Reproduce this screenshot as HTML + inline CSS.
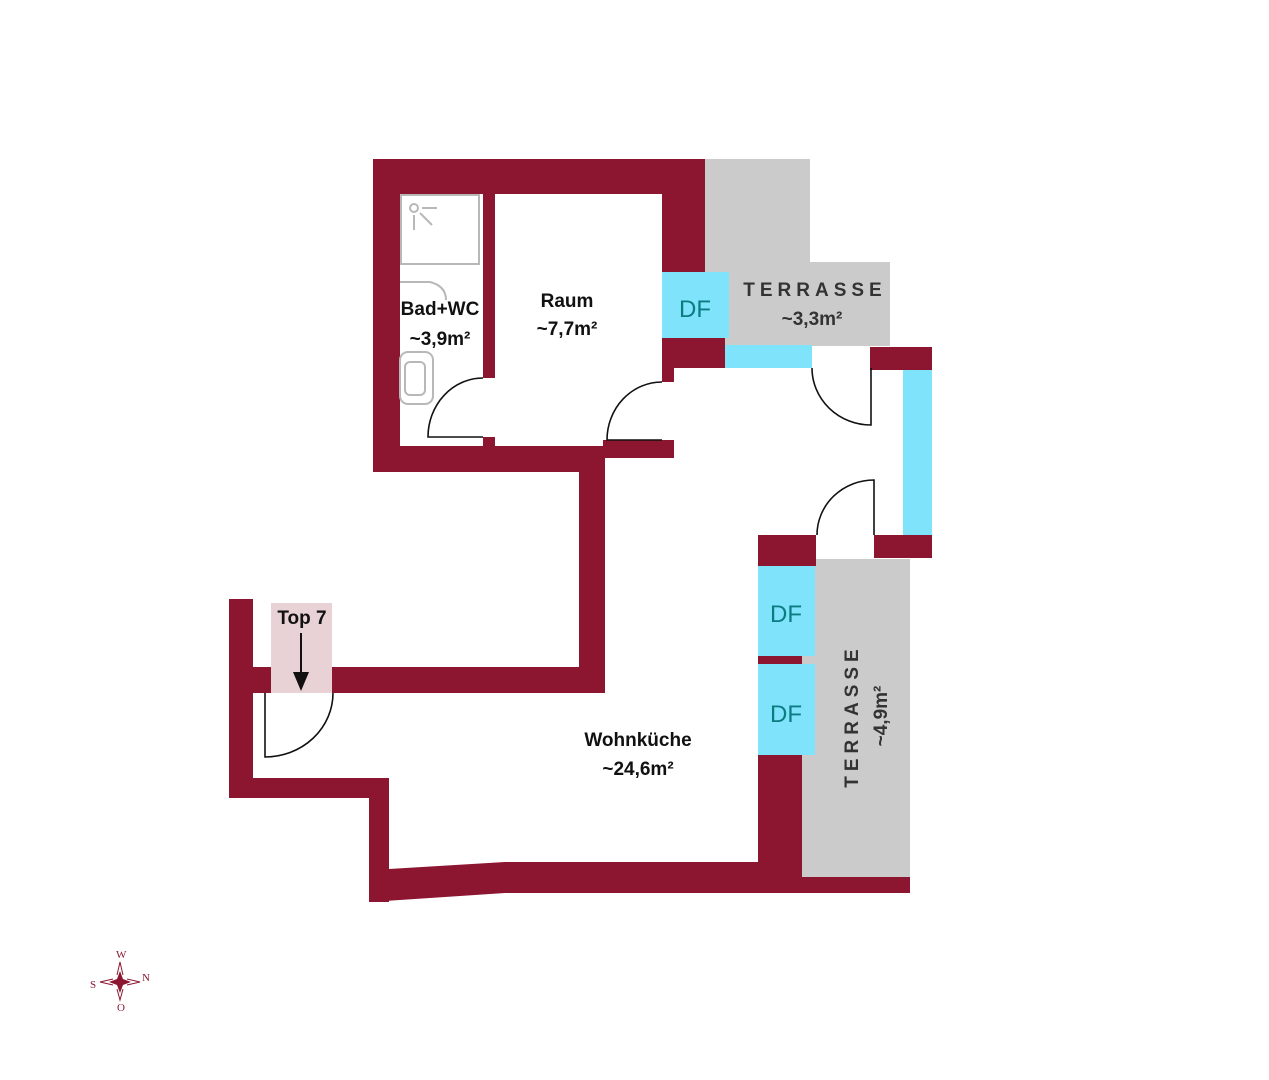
<!DOCTYPE html>
<html><head><meta charset="utf-8"><style>
html,body{margin:0;padding:0;background:#fff;}
svg{display:block;}
.b{font-family:"Liberation Sans",sans-serif;font-weight:bold;font-size:19px;fill:#111;text-anchor:middle;}
.df{font-family:"Liberation Sans",sans-serif;font-size:24px;fill:#0a7c82;text-anchor:middle;}
.t{font-family:"Liberation Sans",sans-serif;font-weight:bold;font-size:19px;fill:#333;text-anchor:middle;letter-spacing:5px;}
</style></head><body>
<svg width="1269" height="1080" viewBox="0 0 1269 1080" xmlns="http://www.w3.org/2000/svg">
<!-- terraces -->
<g fill="#cbcbcb">
<rect x="705" y="159" width="105" height="187"/>
<rect x="705" y="262" width="185" height="84"/>
<rect x="802" y="559" width="108" height="320"/>
</g>
<!-- top7 pink -->
<rect x="271" y="603" width="61" height="90" fill="#e8d2d6"/>
<!-- cyan windows -->
<g fill="#7fe3fb">
<rect x="662" y="272" width="67" height="66"/>
<rect x="725" y="345" width="87" height="23"/>
<rect x="903" y="370" width="29" height="166"/>
<rect x="758" y="566" width="57" height="90"/>
<rect x="758" y="664" width="57" height="91"/>
</g>
<!-- walls -->
<g fill="#8c1530">
<rect x="373" y="159" width="332" height="35"/>
<rect x="373" y="159" width="27" height="313"/>
<rect x="373" y="446" width="232" height="26"/>
<rect x="483" y="194" width="12" height="184"/>
<rect x="483" y="437" width="12" height="10"/>
<rect x="603" y="440" width="71" height="18"/>
<rect x="662" y="194" width="43" height="78"/>
<rect x="662" y="338" width="63" height="30"/>
<rect x="662" y="368" width="12" height="14"/>
<rect x="870" y="347" width="62" height="23"/>
<rect x="579" y="458" width="26" height="235"/>
<rect x="332" y="667" width="273" height="26"/>
<rect x="229" y="599" width="24" height="199"/>
<rect x="253" y="667" width="18" height="26"/>
<rect x="229" y="778" width="160" height="20"/>
<rect x="369" y="778" width="20" height="124"/>
<polygon points="389,869 505,862 758,862 758,893 505,893 369,902 369,869"/>
<rect x="758" y="535" width="58" height="31"/>
<rect x="758" y="656" width="44" height="8"/>
<rect x="758" y="755" width="44" height="138"/>
<rect x="802" y="877" width="108" height="16"/>
<rect x="874" y="535" width="58" height="23"/>
</g>
<!-- doors -->
<g fill="none" stroke="#111" stroke-width="1.6">
<path d="M483,378 A55,59 0 0 0 428,437 L483,437"/>
<path d="M662,382 A55,58 0 0 0 607,440 L662,440"/>
<path d="M812,368 A59,57 0 0 0 871,425 L871,368"/>
<path d="M874,535 L874,480 A57,55 0 0 0 817,535"/>
<path d="M265,693 L265,757 A68,64 0 0 0 333,693"/>
</g>
<!-- arrow -->
<line x1="301" y1="633" x2="301" y2="676" stroke="#111" stroke-width="2"/>
<polygon points="293,672 309,672 301,691" fill="#111"/>
<!-- bath fixtures -->
<g fill="none" stroke="#b8b8b8" stroke-width="2">
<rect x="401" y="195" width="78" height="69"/>
<circle cx="414" cy="208" r="4"/>
<line x1="422" y1="208" x2="437" y2="208"/>
<line x1="414" y1="215" x2="414" y2="230"/>
<line x1="420" y1="213" x2="432" y2="225"/>
<path d="M400,282 L430,282 Q446,286 446,300"/>
<rect x="400" y="352" width="33" height="52" rx="8"/>
<rect x="405" y="362" width="20" height="33" rx="5"/>
</g>
<!-- labels -->
<text class="b" x="440" y="315">Bad+WC</text>
<text class="b" x="440" y="345">~3,9m²</text>
<text class="b" x="567" y="307">Raum</text>
<text class="b" x="567" y="335">~7,7m²</text>
<text class="b" x="302" y="624">Top 7</text>
<text class="b" x="638" y="746">Wohnküche</text>
<text class="b" x="638" y="775">~24,6m²</text>
<text class="t" x="815" y="296">TERRASSE</text>
<text class="t" x="812" y="325" style="letter-spacing:0">~3,3m²</text>
<text class="t" transform="translate(858,716) rotate(-90)">TERRASSE</text>
<text class="t" transform="translate(887,716) rotate(-90)" style="letter-spacing:0">~4,9m²</text>
<text class="df" x="695" y="317">DF</text>
<text class="df" x="786" y="622">DF</text>
<text class="df" x="786" y="722">DF</text>
<!-- compass -->
<g fill="#8c1530" stroke="#8c1530" font-family="Liberation Serif,serif" font-size="11">
<polygon points="120,971 123,979 131,982 123,985 120,993 117,985 109,982 117,979" stroke="none"/>
<path d="M117,975 L120,962 L123,975 M127,979 L140,982 L127,985 M123,989 L120,1000 L117,989 M113,985 L100,982 L113,979" fill="none" stroke-width="1"/>
<text x="116" y="958" stroke="none">W</text>
<text x="142" y="981" stroke="none">N</text>
<text x="90" y="988" stroke="none">S</text>
<text x="117" y="1011" stroke="none">O</text>
</g>
</svg>
</body></html>
